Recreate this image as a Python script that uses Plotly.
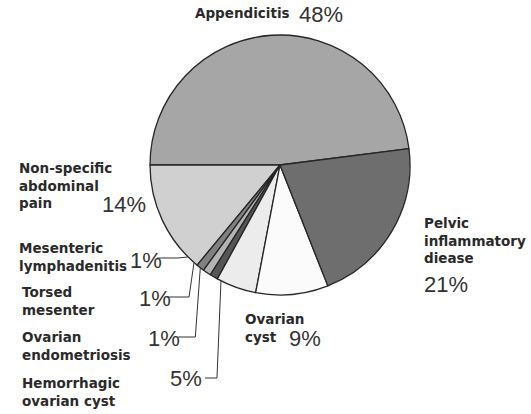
import math
import plotly.graph_objects as go

# ---- data ----
categories = ["Appendicitis", "Non-specific abdominal pain", "Mesenteric lymphadenitis",
              "Torsed mesenter", "Ovarian endometriosis", "Hemorrhagic ovarian cyst",
              "Ovarian cyst", "Pelvic inflammatory diease"]
values = [48, 14, 1, 1, 1, 5, 9, 21]
name_texts = ["Appendicitis", "Non-specific<br>abdominal<br>pain", "Mesenteric<br>lymphadenitis",
              "Torsed<br>mesenter", "Ovarian<br>endometriosis", "Hemorrhagic<br>ovarian cyst",
              "Ovarian<br>cyst", "Pelvic<br>inflammatory<br>diease"]
pct_texts = ["48%", "14%", "1%", "1%", "1%", "5%", "9%", "21%"]

# ---- style / layout ----
colors = ["#a6a6a6", "#d0d0d0", "#808080", "#b4b4b4", "#565656", "#ececec", "#fbfbfb", "#6e6e6e"]
W, H = 531, 414
CX, CY, R = 280, 165, 130

name_pos = [(193, 13), (17, 185), (17, 257), (20, 301), (20, 346), (20, 392), (243, 328), (422, 240)]
pct_pos = [(297, 14), (100, 204), (128, 260), (137, 298), (146, 338), (168, 378), (287, 338), (422, 284)]
# leaders: slice index -> (label end x, label y, elbow dx)
leaders = {2: (157, 258, -10), 3: (167, 297, -5), 4: (178, 337, -5), 5: (205, 378, -4)}


def px(x):
    return x / W


def py(y):
    return 1 - y / H


fig = go.Figure(go.Pie(
    labels=categories, values=values, sort=False, direction="counterclockwise",
    rotation=270, textinfo="none", hoverinfo="label+percent",
    marker=dict(colors=colors, line=dict(color="#262626", width=1.3)),
    domain=dict(x=[px(CX - R), px(CX + R)], y=[py(CY + R), py(CY - R)]),
    showlegend=False,
))

anns = []
for i in range(len(categories)):
    nx, ny = name_pos[i]
    anns.append(dict(x=px(nx), y=py(ny), xref="paper", yref="paper", text=name_texts[i],
                     showarrow=False, xanchor="left", yanchor="middle", align="left",
                     font=dict(family="DejaVu Sans", size=13.5, color="#2a2a2a", weight="bold")))
    qx, qy = pct_pos[i]
    anns.append(dict(x=px(qx), y=py(qy), xref="paper", yref="paper", text=pct_texts[i],
                     showarrow=False, xanchor="left", yanchor="middle",
                     font=dict(family="Liberation Sans", size=22, color="#333333")))

total = sum(values)
cum = 0
shapes = []
for i, v in enumerate(values):
    mid = (cum + v / 2) / total
    cum += v
    if i in leaders:
        th = 2 * math.pi * mid
        ex = CX + R * math.cos(th)
        ey = CY - R * math.sin(th)
        lx, ly, dx = leaders[i]
        bx = ex + dx
        path = f"M {px(lx)} {py(ly)} L {px(bx)} {py(ly)} L {px(ex)} {py(ey)}"
        shapes.append(dict(type="path", path=path, xref="paper", yref="paper",
                           line=dict(color="#333333", width=1)))

fig.update_layout(width=W, height=H, margin=dict(l=0, r=0, t=0, b=0),
                  paper_bgcolor="white", plot_bgcolor="white",
                  annotations=anns, shapes=shapes)
fig.write_html("out.html", config={"displayModeBar": False},
               post_script="document.body.style.margin='0px';")
